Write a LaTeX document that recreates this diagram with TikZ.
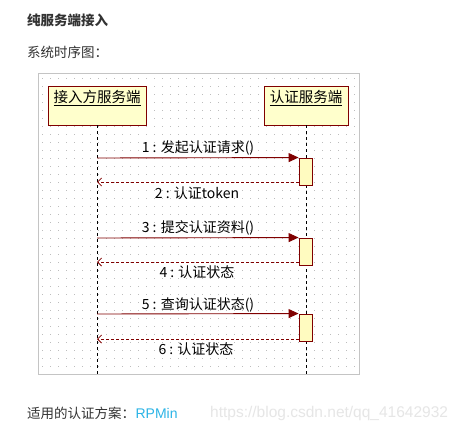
\documentclass[tikz,border=0pt]{standalone}
\usepackage{fontspec}
\setmainfont{Liberation Sans}
\newfontfamily\cjk{Noto Sans CJK SC}
\usetikzlibrary{arrows.meta}
\definecolor{mred}{HTML}{800000}
\definecolor{boxfill}{HTML}{FFFFCC}
\definecolor{actfill}{HTML}{FFFBC0}
\definecolor{framegray}{HTML}{C4C4C4}
\definecolor{dotgray}{HTML}{BDBDBD}
\definecolor{rpblue}{HTML}{2CB4E6}
\definecolor{wmgray}{HTML}{E6E6E6}
\definecolor{txt}{HTML}{333333}
\tikzset{
  lifebox/.style={draw=mred, fill=boxfill, line width=0.9pt, inner sep=0pt},
  actbox/.style={draw=mred, fill=actfill, line width=0.9pt, inner sep=0pt, minimum width=13pt, minimum height=27pt},
  lifeline/.style={black, dashed, dash pattern=on 3pt off 3pt, line width=0.8pt},
  callmsg/.style={mred, line width=0.9pt, -{Triangle[length=10pt,width=9pt]}},
  retmsg/.style={mred, line width=0.8pt, dash pattern=on 3pt off 2pt, -{Straight Barb[length=4pt,width=8pt]}},
  dlabel/.style={font=\cjk\fontsize{14}{16}\selectfont, text=black, inner sep=1pt},
  boxlabel/.style={font=\cjk\fontsize{14.5}{16}\selectfont, text=black, inner sep=1pt},
  pagetext/.style={font=\cjk\fontsize{13.5}{16}\selectfont, text=txt, inner sep=0pt, anchor=west}
}
\begin{document}
\begin{tikzpicture}[x=1pt,y=-1pt]
\useasboundingbox (0,0) rectangle (462,433);
\fill[white] (0,0) rectangle (462,433);

\node[pagetext, font=\cjk\bfseries\fontsize{13.5}{16}\selectfont] (title) at (27,20) {纯服务端接入};
\node[pagetext] (sub) at (27,52) {系统时序图：};

% frame with dotted grid
\fill[white] (38,74) rectangle (359,374);
\foreach \yy in {78,86,...,370}
  \draw[dotgray, line width=0.9pt, dash pattern=on 0.9pt off 7.1pt] (42,\yy) -- (356,\yy);
\draw[framegray, line width=1pt] (38,74) rectangle (359,374);

% lifeline heads
\node[lifebox, minimum width=98pt, minimum height=39pt] (A) at (97,105.5) {};
\node[boxlabel] (Alab) at (97,98) {\underline{接入方服务端}};
\node[lifebox, minimum width=84pt, minimum height=39pt] (B) at (306,105.5) {};
\node[boxlabel] (Blab) at (306,98) {\underline{认证服务端}};

\coordinate (Aend) at (97,374);
\coordinate (Bend) at (306,374);
\draw[lifeline] (A.south) -- (Aend);
\draw[lifeline] (B.south) -- (Bend);

% activation boxes
\node[actbox] (act1) at (305.5,171.5) {};
\node[actbox] (act2) at (305.5,251.5) {};
\node[actbox] (act3) at (305.5,327.5) {};

% message endpoints on lifeline A
\coordinate (a1) at (97,158);
\coordinate (a2) at (97,182);
\coordinate (a3) at (97,238);
\coordinate (a4) at (97,262);
\coordinate (a5) at (97,314);
\coordinate (a6) at (97,339);

\draw[callmsg] (a1) -- (act1.north west);
\draw[retmsg] (act1.west |- a2) -- (a2);
\draw[callmsg] (a3) -- (act2.north west);
\draw[retmsg] (act2.west |- a4) -- (a4);
\draw[callmsg] (a5) -- (act3.north west);
\draw[retmsg] (act3.west |- a6) -- (a6);

\node[dlabel] (l1) at (198,148) {1 : 发起认证请求()};
\node[dlabel] (l2) at (197,193) {2 : 认证token};
\node[dlabel] (l3) at (198,228) {3 : 提交认证资料()};
\node[dlabel] (l4) at (197,272) {4 : 认证状态};
\node[dlabel] (l5) at (198,305) {5 : 查询认证状态()};
\node[dlabel] (l6) at (196,349) {6 : 认证状态};

% footer
\node[pagetext] (foot) at (27,413) {适用的认证方案：};
\node[anchor=west, inner sep=0pt, text=rpblue, font=\fontsize{14}{16}\selectfont] (rp) at (foot.east) {RPMin};
\node[anchor=west, inner sep=0pt, text=wmgray, font=\fontsize{15.5}{18}\selectfont] (wm) at (210,413) {https://blog.csdn.net/qq\_41642932};
\end{tikzpicture}
\end{document}
